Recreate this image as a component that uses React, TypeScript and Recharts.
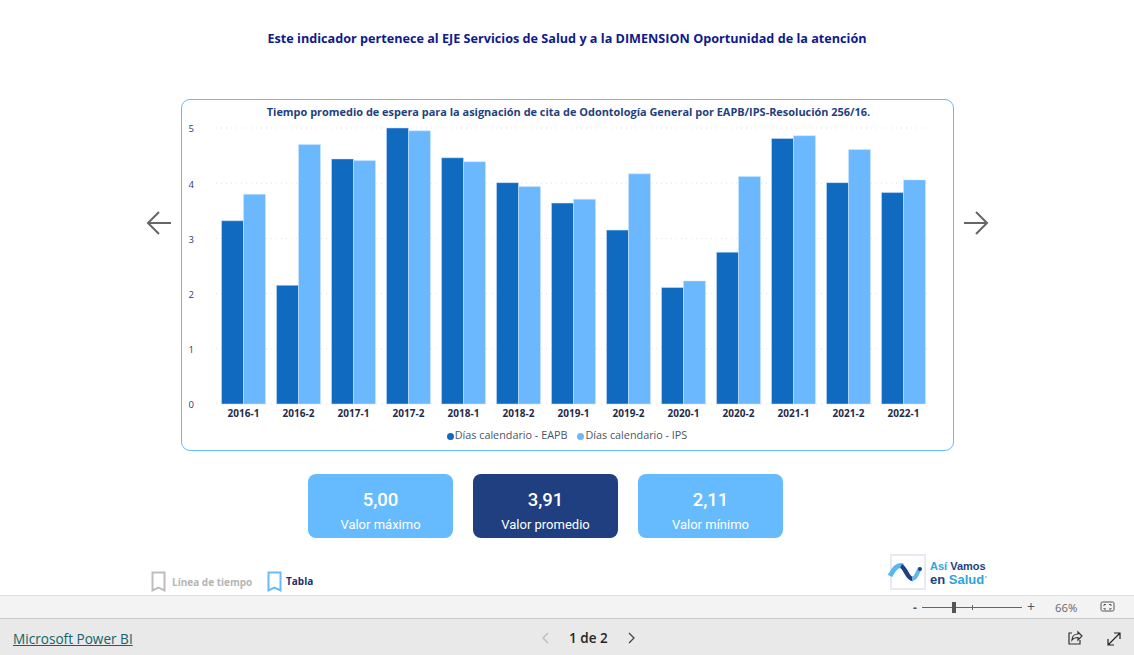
import { Bar, BarChart, CartesianGrid, Legend, XAxis, YAxis } from 'recharts';

const periods = ['2016-1', '2016-2', '2017-1', '2017-2', '2018-1', '2018-2', '2019-1', '2019-2', '2020-1', '2020-2', '2021-1', '2021-2', '2022-1'];
const eapb = [3.32, 2.15, 4.44, 5.0, 4.46, 4.01, 3.64, 3.15, 2.11, 2.75, 4.81, 4.01, 3.83];
const ips = [3.8, 4.7, 4.41, 4.95, 4.39, 3.94, 3.71, 4.17, 2.23, 4.12, 4.86, 4.61, 4.06];
const yTicks = [0, 1, 2, 3, 4, 5];

const cards = [
  { value: '5,00', label: 'Valor máximo', left: 308, bg: '#66bbff' },
  { value: '3,91', label: 'Valor promedio', left: 473, bg: '#1f3f80' },
  { value: '2,11', label: 'Valor mínimo', left: 638, bg: '#66bbff' },
];

const rows = periods.map((period, i) => ({ period, eapb: eapb[i], ips: ips[i] }));

const FONT = '"Open Sans", "Noto Sans", sans-serif';
const LOGO_FONT = '"Liberation Sans", sans-serif';

function Arrow({ left, flip }: { left: number; flip?: boolean }) {
  return (
    <svg width={26} height={26} style={{ position: 'absolute', left, top: 210, transform: flip ? 'scaleX(-1)' : undefined }}>
      <path d="M25 13H2M13 2L2 13l11 11" fill="none" stroke="#666" strokeWidth={2} />
    </svg>
  );
}

function BookMark({ left, color }: { left: number; color: string }) {
  return (
    <svg width={16} height={22} style={{ position: 'absolute', left, top: 571 }}>
      <path d="M1.5 1.5h12v18l-6-3-6 3z" fill="none" stroke={color} strokeWidth={2} />
    </svg>
  );
}

function Logo() {
  return (
    <svg width={104} height={40} style={{ position: 'absolute', left: 888, top: 553 }}>
      <rect x={3} y={2} width={34} height={34} fill="#fff" stroke="#e6ebf2" strokeWidth={2} />
      <path d="M2 23 C6 15 10 11 15 13" fill="none" stroke="#5cb8ec" strokeWidth={5} />
      <path d="M13 13 C18 15 19 26 25 26" fill="none" stroke="#1f3f80" strokeWidth={4.5} />
      <path d="M24 26 C28 26 29 20 32 15" fill="none" stroke="#5cb8ec" strokeWidth={4} />
      <circle cx={32} cy={16} r={2} fill="#1f3f80" />
      <text x={42} y={16.5} fontFamily={LOGO_FONT} fontSize={11} fontWeight={700} fill="#2ea3dd">Así <tspan fill="#1f3f80">Vamos</tspan></text>
      <text x={42} y={30.5} fontFamily={LOGO_FONT} fontSize={13} fontWeight={700} fill="#1f3f80">en <tspan fill="#2ea3dd">Salud</tspan></text>
      <circle cx={98} cy={24} r={0.8} fill="#2ea3dd" />
    </svg>
  );
}

export default function App() {
  return (
    <div style={{ position: 'absolute', left: 0, top: 0, width: 1134, height: 655, background: '#fff', overflow: 'hidden', fontFamily: FONT }}>
      <div style={{ position: 'absolute', left: 0, width: 1134, top: 29, textAlign: 'center', fontSize: 12.65, fontWeight: 700, color: '#0f1a8c' }}>
        Este indicador pertenece al EJE Servicios de Salud y a la DIMENSION Oportunidad de la atención
      </div>

      <div style={{ position: 'absolute', left: 181, top: 99, width: 773, height: 352, boxSizing: 'border-box', border: '1px solid #66bbff', borderRadius: 9 }} />
      <div style={{ position: 'absolute', left: 182, width: 773, top: 104, textAlign: 'center', fontSize: 10.95, fontWeight: 700, color: '#1f3f80' }}>
        Tiempo promedio de espera para la asignación de cita de Odontología General por EAPB/IPS-Resolución 256/16.
      </div>

      <div style={{ position: 'absolute', left: 181, top: 99 }}>
        <BarChart width={773} height={352} data={rows} margin={{ top: 29, right: 23, bottom: 12, left: 0 }} barCategoryGap="10%" barGap={0}>
          <CartesianGrid vertical={false} stroke="#e2e2e2" strokeDasharray="1 4" />
          <XAxis dataKey="period" axisLine={false} tickLine={false} interval={0} height={20} tick={{ fontSize: 10, fontWeight: 700, fill: '#252a4a', fontFamily: FONT, dy: -2 }} />
          <YAxis domain={[0, 5]} ticks={yTicks} width={35} axisLine={false} tickLine={false} tick={{ fontSize: 9.5, fill: '#2b3a7a', fontFamily: FONT, dx: -14, dy: 1 }} />
          <Bar dataKey="eapb" name="Días calendario - EAPB" fill="#0f6ac0" stroke="#cfe6ff" strokeWidth={0.5} isAnimationActive={false} />
          <Bar dataKey="ips" name="Días calendario - IPS" fill="#6cb8ff" stroke="#cfe6ff" strokeWidth={0.5} isAnimationActive={false} />
          <Legend iconType="circle" iconSize={7} verticalAlign="bottom" wrapperStyle={{ fontSize: 10.8, bottom: 9, left: 16, color: '#4a5a80' }} formatter={(v: string) => <span style={{ color: '#4a5568', marginLeft: -3 }}>{v}</span>} />
        </BarChart>
      </div>

      <Arrow left={146} />
      <Arrow left={963} flip />

      {cards.map((c) => (
        <div key={c.label} style={{ position: 'absolute', left: c.left, top: 474, width: 145, height: 64, background: c.bg, borderRadius: 8, color: '#fff', textAlign: 'center' }}>
          <div style={{ position: 'absolute', width: '100%', top: 14, fontSize: 18.5, fontFamily: 'Roboto, sans-serif', fontWeight: 500, lineHeight: '24px' }}>{c.value}</div>
          <div style={{ position: 'absolute', width: '100%', top: 42, fontSize: 13, fontFamily: 'Roboto, sans-serif', lineHeight: '18px' }}>{c.label}</div>
        </div>
      ))}

      <BookMark left={151} color="#bdbdbd" />
      <div style={{ position: 'absolute', left: 172, top: 575, fontSize: 10, fontWeight: 700, color: '#b5b5b5' }}>Línea de tiempo</div>
      <BookMark left={267} color="#66bbff" />
      <div style={{ position: 'absolute', left: 286, top: 574, fontSize: 10, fontWeight: 700, color: '#1f2f70' }}>Tabla</div>
      <Logo />

      <div style={{ position: 'absolute', left: 0, top: 595, width: 1134, height: 24, background: '#f3f3f3', borderTop: '1px solid #e0e0e0', borderBottom: '1px solid #c8c8c8', boxSizing: 'border-box' }} />
      <div style={{ position: 'absolute', left: 0, top: 619, width: 1134, height: 36, background: '#e9e9e9' }} />

      <div style={{ position: 'absolute', left: 913, top: 599, fontSize: 12, fontWeight: 700, color: '#555' }}>-</div>
      <div style={{ position: 'absolute', left: 922, top: 607, width: 100, height: 1, background: '#666' }} />
      <div style={{ position: 'absolute', left: 952, top: 602, width: 4, height: 11, background: '#555' }} />
      <div style={{ position: 'absolute', left: 972, top: 605, width: 1, height: 5, background: '#666' }} />
      <div style={{ position: 'absolute', left: 1027, top: 597, fontSize: 14, color: '#555' }}>+</div>
      <div style={{ position: 'absolute', left: 1055, top: 600, fontSize: 11.3, color: '#666' }}>66%</div>
      <svg width={16} height={12} style={{ position: 'absolute', left: 1100, top: 601 }}>
        <rect x={1} y={1} width={13} height={9} rx={1.5} fill="none" stroke="#555" />
        <path d="M4 5V3.5H6M9 3.5H11V5M11 7V8H9M6 8H4V7" fill="none" stroke="#555" />
      </svg>

      <div style={{ position: 'absolute', left: 13, top: 629, fontSize: 13.6, color: '#11646a', textDecoration: 'underline' }}>Microsoft Power BI</div>
      <svg width={10} height={14} style={{ position: 'absolute', left: 541, top: 631 }}>
        <path d="M7 2L2 7l5 5" fill="none" stroke="#bbb" strokeWidth={1.3} />
      </svg>
      <div style={{ position: 'absolute', left: 569, top: 629, fontSize: 13.5, fontWeight: 600, color: '#252525' }}>1 de 2</div>
      <svg width={10} height={14} style={{ position: 'absolute', left: 626, top: 631 }}>
        <path d="M3 2l5 5-5 5" fill="none" stroke="#444" strokeWidth={1.3} />
      </svg>
      <svg width={16} height={16} style={{ position: 'absolute', left: 1067, top: 630 }}>
        <path d="M5 3H2v11h11v-4" fill="none" stroke="#333" strokeWidth={1.2} />
        <path d="M5 10c0-4 3-6 6-6V2l4 4-4 4V7.5c-3 0-5 1-6 2.5z" fill="none" stroke="#333" strokeWidth={1.2} />
      </svg>
      <svg width={16} height={16} style={{ position: 'absolute', left: 1106, top: 631 }}>
        <path d="M2 14L14 2M8 2h6v6M2 8v6h6" fill="none" stroke="#222" strokeWidth={1.2} />
      </svg>
    </div>
  );
}
